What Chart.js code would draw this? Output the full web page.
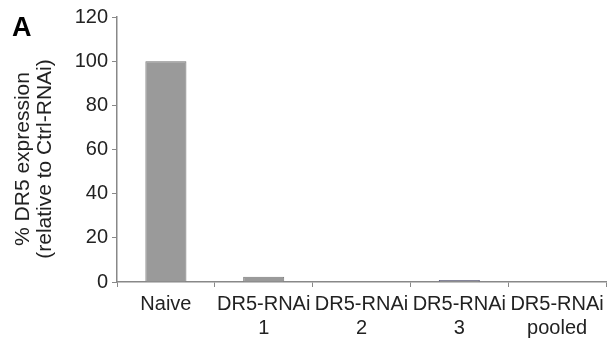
<!DOCTYPE html>
<html>
<head>
<meta charset="utf-8">
<script src="https://cdn.jsdelivr.net/npm/chart.js@4"></script>
<style>
  body { margin: 0; background: #fff; }
  #wrap { width: 614px; height: 341px; }
</style>
</head>
<body>
<div id="wrap"><canvas id="chart" width="614" height="341"></canvas></div>
<script>
// chart data
const categories = [['Naive'], ['DR5-RNAi', '1'], ['DR5-RNAi', '2'], ['DR5-RNAi', '3'], ['DR5-RNAi', 'pooled']];
const expression = [100, 2.4, 0.3, 0.9, 0.3];
const yTicks = [0, 20, 40, 60, 80, 100, 120];
const yTitle = ['% DR5 expression', '(relative to Ctrl-RNAi)'];
const panelLetter = 'A';

const fontFamily = '"Liberation Sans", Arial, sans-serif';

// panel letter and the two-line y title, drawn by hand so they sit where the original has them
const extraText = {
    id: 'extraText',
    afterDraw(chart) {
        const ctx = chart.ctx;
        ctx.save();
        ctx.fillStyle = '#000';
        ctx.font = 'bold 27px ' + fontFamily;
        ctx.textBaseline = 'alphabetic';
        ctx.fillText(panelLetter, 12, 36);

        ctx.fillStyle = '#222';
        ctx.font = '21px ' + fontFamily;
        ctx.textAlign = 'center';
        ctx.textBaseline = 'middle';
        ctx.translate(0, 159);
        ctx.rotate(-Math.PI / 2);
        ctx.fillText(yTitle[0], 0, 23);
        ctx.fillText(yTitle[1], 0, 45);
        ctx.restore();
    }
};

new Chart(document.getElementById('chart'), {
    type: 'bar',
    data: {
        labels: categories,
        datasets: [{
            data: expression,
            backgroundColor: '#9a9a9a',
            borderColor: ['#737373', '#7a7a7a', '#8a8a8a', '#55557a', '#8a8a8a'],
            borderWidth: 1,
            barPercentage: 0.42,
            categoryPercentage: 1
        }]
    },
    options: {
        responsive: false,
        animation: false,
        layout: { padding: { top: 17, right: 8, left: 0, bottom: 0 } },
        plugins: { legend: { display: false }, tooltip: { enabled: false } },
        scales: {
            x: {
                grid: {
                    offset: true,
                    drawOnChartArea: false,
                    drawTicks: true,
                    tickLength: 5,
                    color: '#888'
                },
                border: { color: '#888', width: 1.5 },
                ticks: {
                    color: '#222',
                    font: { family: fontFamily, size: 20, lineHeight: 1.2 },
                    maxRotation: 0,
                    autoSkip: false,
                    padding: 5
                },
                afterFit(scale) { scale.height = 59; }
            },
            y: {
                min: 0,
                max: 120,
                afterBuildTicks(scale) { scale.ticks = yTicks.map(v => ({ value: v })); },
                grid: {
                    drawOnChartArea: false,
                    drawTicks: true,
                    tickLength: 5,
                    color: '#888'
                },
                border: { color: '#888', width: 1.5 },
                ticks: {
                    color: '#222',
                    font: { family: fontFamily, size: 20 },
                    padding: 4
                },
                afterFit(scale) { scale.width = 117; }
            }
        }
    },
    plugins: [extraText]
});
</script>
</body>
</html>
